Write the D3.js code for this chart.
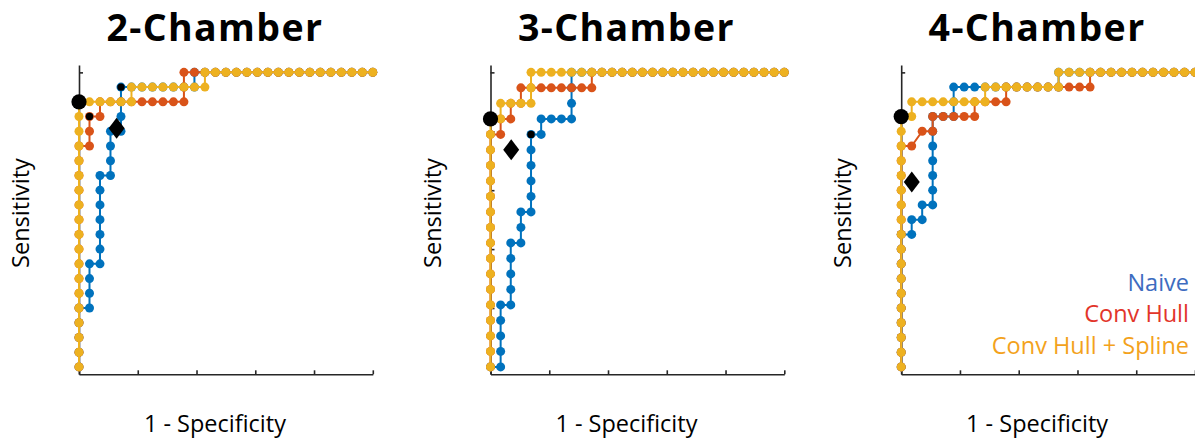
<!DOCTYPE html>
<html>
<head>
<meta charset="utf-8">
<script src="https://cdn.jsdelivr.net/npm/d3@7"></script>
<style>
  body { margin: 0; background: #fff; }
  svg { display: block; }
  text { font-family: "Open Sans", "Noto Sans", sans-serif; }
</style>
</head>
<body>
<svg id="chart" width="1195" height="442"></svg>
<script>
// ---- data -------------------------------------------------------------
const panelTitles = ["2-Chamber", "3-Chamber", "4-Chamber"];
const negCounts = [28, 29, 28];   // negatives per view (x step = 1/N)
const posCounts = [20, 19, 20];   // positives per view (y step = 1/P)
const seriesNames = ["Naive", "Conv Hull", "Conv Hull + Spline"];
const xTicks = [0, 0.2, 0.4, 0.6, 0.8, 1];
const yTicks = [0, 0.2, 0.4, 0.6, 0.8, 1];

// ROC vertices, one per threshold: [false positives, true positives]
const naive2 = [[0,0],[0,1],[0,2],[0,3],[0,4],[1,4],[1,5],[1,6],[1,7],[2,7],[2,8],[2,9],[2,10],[2,11],[2,12],[2,13],[3,13],[3,14],[3,15],[3,16],[4,16],[4,17],[4,18],[4,19],[5,19],[6,19],[7,19],[8,19],[9,19],[10,19],[11,19],[11,20],[12,20],[13,20],[14,20],[15,20],[16,20],[17,20],[18,20],[19,20],[20,20],[21,20],[22,20],[23,20],[24,20],[25,20],[26,20],[27,20],[28,20]];
const hull2 = [[0,0],[0,1],[0,2],[0,3],[0,4],[0,5],[0,6],[0,7],[0,8],[0,9],[0,10],[0,11],[0,12],[0,13],[0,14],[0,15],[1,15],[1,16],[1,17],[2,17],[2,18],[3,18],[4,18],[5,18],[6,18],[7,18],[8,18],[9,18],[10,18],[10,19],[10,20],[11,20],[12,20],[13,20],[14,20],[15,20],[16,20],[17,20],[18,20],[19,20],[20,20],[21,20],[22,20],[23,20],[24,20],[25,20],[26,20],[27,20],[28,20]];
const spline2 = [[0,0],[0,1],[0,2],[0,3],[0,4],[0,5],[0,6],[0,7],[0,8],[0,9],[0,10],[0,11],[0,12],[0,13],[0,14],[0,15],[0,16],[0,17],[0,18],[1,18],[2,18],[3,18],[4,18],[5,18],[5,19],[6,19],[7,19],[8,19],[9,19],[10,19],[11,19],[12,19],[12,20],[13,20],[14,20],[15,20],[16,20],[17,20],[18,20],[19,20],[20,20],[21,20],[22,20],[23,20],[24,20],[25,20],[26,20],[27,20],[28,20]];

const naive3 = [[0,0],[1,0],[1,1],[1,2],[1,3],[1,4],[2,4],[2,5],[2,6],[2,7],[2,8],[3,8],[3,9],[3,10],[4,10],[4,11],[4,12],[4,13],[4,14],[4,15],[5,15],[5,16],[6,16],[7,16],[8,16],[8,17],[8,18],[8,19],[9,19],[10,19],[11,19],[12,19],[13,19],[14,19],[15,19],[16,19],[17,19],[18,19],[19,19],[20,19],[21,19],[22,19],[23,19],[24,19],[25,19],[26,19],[27,19],[28,19],[29,19]];
const hull3 = [[0,0],[0,1],[0,2],[0,3],[0,4],[0,5],[0,6],[0,7],[0,8],[0,9],[0,10],[0,11],[0,12],[0,13],[0,14],[0,15],[1,15],[1,16],[2,16],[2,17],[3,17],[3,18],[4,18],[5,18],[6,18],[7,18],[8,18],[9,18],[10,18],[10,19],[11,19],[12,19],[13,19],[14,19],[15,19],[16,19],[17,19],[18,19],[19,19],[20,19],[21,19],[22,19],[23,19],[24,19],[25,19],[26,19],[27,19],[28,19],[29,19]];
const spline3 = [[0,0],[0,1],[0,2],[0,3],[0,4],[0,5],[0,6],[0,7],[0,8],[0,9],[0,10],[0,11],[0,12],[0,13],[0,14],[0,15],[0,16],[1,16],[1,17],[2,17],[3,17],[4,17],[4,18],[4,19],[5,19],[6,19],[7,19],[8,19],[9,19],[10,19],[11,19],[12,19],[13,19],[14,19],[15,19],[16,19],[17,19],[18,19],[19,19],[20,19],[21,19],[22,19],[23,19],[24,19],[25,19],[26,19],[27,19],[28,19],[29,19]];

const naive4 = [[0,0],[0,1],[0,2],[0,3],[0,4],[0,5],[0,6],[0,7],[0,8],[0,9],[1,9],[1,10],[2,10],[2,11],[3,11],[3,12],[3,13],[3,14],[3,15],[3,16],[3,17],[4,17],[5,17],[5,18],[5,19],[6,19],[7,19],[8,19],[9,19],[10,19],[11,19],[12,19],[13,19],[14,19],[15,19],[15,20],[16,20],[17,20],[18,20],[19,20],[20,20],[21,20],[22,20],[23,20],[24,20],[25,20],[26,20],[27,20],[28,20]];
const hull4 = [[0,0],[0,1],[0,2],[0,3],[0,4],[0,5],[0,6],[0,7],[0,8],[0,9],[0,10],[0,11],[0,12],[0,13],[0,14],[0,15],[1,15],[2,16],[3,16],[3,17],[4,17],[5,17],[6,17],[7,17],[7,18],[8,18],[9,18],[10,18],[10,19],[11,19],[12,19],[13,19],[14,19],[15,19],[16,19],[17,19],[18,19],[18,20],[19,20],[20,20],[21,20],[22,20],[23,20],[24,20],[25,20],[26,20],[27,20],[28,20]];
const spline4 = [[0,0],[0,1],[0,2],[0,3],[0,4],[0,5],[0,6],[0,7],[0,8],[0,9],[0,10],[0,11],[0,12],[0,13],[0,14],[0,15],[0,16],[0,17],[1,17],[1,18],[2,18],[3,18],[4,18],[5,18],[6,18],[7,18],[8,18],[8,19],[9,19],[10,19],[11,19],[12,19],[13,19],[14,19],[15,19],[15,20],[16,20],[17,20],[18,20],[19,20],[20,20],[21,20],[22,20],[23,20],[24,20],[25,20],[26,20],[27,20],[28,20]];

// chosen operating points (counts) and the reference reader point (rates)
const splineOptimum = [[0,18],[0,16],[0,17]];
const curveOptima = [
  [{series: 1, fp: 1, tp: 17}, {series: 0, fp: 4, tp: 19}],
  [{series: 0, fp: 4, tp: 15}],
  []
];
const readerPoint = [[0.128, 0.81], [0.0705, 0.737], [0.036, 0.628]];

const panelSeries = [[naive2, hull2, spline2], [naive3, hull3, spline3], [naive4, hull4, spline4]];

// ---- styling ----------------------------------------------------------
const lineColors = ["#0072BD", "#D95319", "#EDB120"];
const legendColors = ["#3d6cc0", "#e2352a", "#f3a21c"];
const axisColor = "#262626";

const svg = d3.select("#chart");
const panelLeft = [79, 490.5, 901.2];
const plotW = 293.8;
const yTop = 65, yBottom = 374.3;

panelTitles.forEach((title, p) => {
  const N = negCounts[p], P = posCounts[p];
  const x = d3.scaleLinear().domain([0, 1]).range([panelLeft[p], panelLeft[p] + plotW]);
  const y = d3.scaleLinear().domain([-0.025, 1.025]).range([yBottom, yTop]);
  const g = svg.append("g");

  // axes (no tick labels, inward ticks)
  const xAxis = d3.axisBottom(x).tickValues(xTicks).tickFormat("").tickSizeInner(-4).tickSizeOuter(0);
  const yAxis = d3.axisLeft(y).tickValues(yTicks).tickFormat("").tickSizeInner(-4).tickSizeOuter(0);
  const gx = g.append("g").attr("transform", `translate(0,${yBottom})`).call(xAxis);
  const gy = g.append("g").attr("transform", `translate(${panelLeft[p]},0)`).call(yAxis);
  [gx, gy].forEach(a => {
    a.select(".domain").attr("stroke", axisColor).attr("stroke-width", 1.6);
    a.selectAll(".tick line").attr("stroke", axisColor).attr("stroke-width", 1.6);
  });

  const line = d3.line().x(d => x(d[0] / N)).y(d => y(d[1] / P));

  panelSeries[p].forEach((pts, s) => {
    const sg = g.append("g");
    sg.append("path").datum(pts)
      .attr("d", line)
      .attr("fill", "none")
      .attr("stroke", lineColors[s])
      .attr("stroke-width", 2)
      .attr("stroke-linejoin", "round");
    sg.selectAll("circle").data(pts).join("circle")
      .attr("cx", d => x(d[0] / N))
      .attr("cy", d => y(d[1] / P))
      .attr("r", 4.5)
      .attr("fill", lineColors[s]);
  });

  // operating points
  curveOptima[p].forEach(o => {
    g.append("circle").attr("cx", x(o.fp / N)).attr("cy", y(o.tp / P)).attr("r", 3.7).attr("fill", "#000");
  });
  const so = splineOptimum[p];
  g.append("circle").attr("cx", x(so[0] / N)).attr("cy", y(so[1] / P)).attr("r", 7.6).attr("fill", "#000");

  const rp = readerPoint[p];
  const dx = 8, dy = 10.5;
  const cx = x(rp[0]), cy = y(rp[1]);
  g.append("path")
    .attr("d", `M${cx},${cy - dy}L${cx + dx},${cy}L${cx},${cy + dy}L${cx - dx},${cy}Z`)
    .attr("fill", "#000");

  // labels
  const mid = panelLeft[p] + plotW / 2 - 11;
  g.append("text").attr("x", mid).attr("y", 40.5)
    .attr("text-anchor", "middle").attr("font-weight", 700).attr("font-size", 37.5)
    .attr("letter-spacing", 1.4)
    .attr("fill", "#000").text(title);
  g.append("text").attr("x", mid).attr("y", 432)
    .attr("text-anchor", "middle").attr("font-size", 23.5).attr("fill", "#000")
    .text("1 - Specificity");
  g.append("text")
    .attr("transform", `translate(${panelLeft[p] - 50},213) rotate(-90)`)
    .attr("text-anchor", "middle").attr("font-size", 23.5).attr("fill", "#000")
    .text("Sensitivity");
});

// legend (right panel)
const legend = svg.append("g");
seriesNames.forEach((name, i) => {
  legend.append("text")
    .attr("x", 1189).attr("y", 291 + i * 31.3)
    .attr("text-anchor", "end").attr("font-size", 23.5)
    .attr("fill", legendColors[i]).text(name);
});
</script>
</body>
</html>
